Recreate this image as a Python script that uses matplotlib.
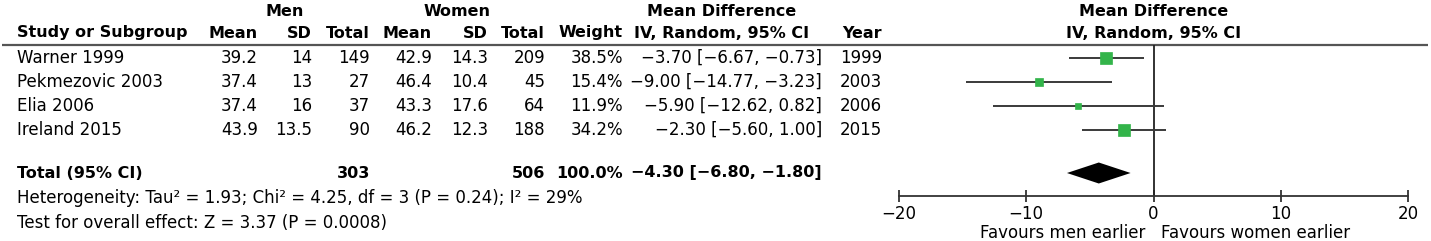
import matplotlib
matplotlib.use("Agg")
import matplotlib.pyplot as plt
import numpy as np

plt.rcParams['font.family'] = ['DejaVu Sans']

# ---------------- data ----------------
studies = ["Warner 1999", "Pekmezovic 2003", "Elia 2006", "Ireland 2015"]
men_mean = [39.2, 37.4, 37.4, 43.9]
men_sd = [14, 13, 16, 13.5]
men_total = [149, 27, 37, 90]
women_mean = [42.9, 46.4, 43.3, 46.2]
women_sd = [14.3, 10.4, 17.6, 12.3]
women_total = [209, 45, 64, 188]
weight = [38.5, 15.4, 11.9, 34.2]
md = [-3.70, -9.00, -5.90, -2.30]
ci_lo = [-6.67, -14.77, -12.62, -5.60]
ci_hi = [-0.73, -3.23, 0.82, 1.00]
year = [1999, 2003, 2006, 2015]

total_men = 303
total_women = 506
total_weight = 100.0
pooled_md = -4.30
pooled_lo = -6.80
pooled_hi = -1.80

heterogeneity = "Heterogeneity: Tau\u00b2 = 1.93; Chi\u00b2 = 4.25, df = 3 (P = 0.24); I\u00b2 = 29%"
overall = "Test for overall effect: Z = 3.37 (P = 0.0008)"
xticks = [-20, -10, 0, 10, 20]
left_label = "Favours men earlier"
right_label = "Favours women earlier"

# ---------------- layout ----------------
W, H = 1431, 241
FS = 12
FSB = 11.5
row_y = [58, 82, 106, 130]
total_y = 173
het_y = 198
test_y = 223
hdr1_y = 12
hdr2_y = 33
line_y = 45
axis_y = 196

def m(v, fmt):
    return fmt.format(v).replace("-", "\u2212")

fig = plt.figure(figsize=(W / 100, H / 100), dpi=100)
ax = fig.add_axes([0, 0, 1, 1])
ax.set_xlim(0, W)
ax.set_ylim(H, 0)
ax.axis("off")

txt = dict(fontsize=FS, va="center", color="black")
bold = dict(fontsize=FSB, va="center", color="black", fontweight="bold")

# headers
ax.text(285, hdr1_y, "Men", ha="center", **bold)
ax.text(457, hdr1_y, "Women", ha="center", **bold)
ax.text(722, hdr1_y, "Mean Difference", ha="center", **bold)
ax.text(17, hdr2_y, "Study or Subgroup", ha="left", **bold)
cols = [258, 312, 370, 432, 488, 545]
for x, lab in zip(cols, ["Mean", "SD", "Total", "Mean", "SD", "Total"]):
    ax.text(x, hdr2_y, lab, ha="right", **bold)
ax.text(623, hdr2_y, "Weight", ha="right", **bold)
ax.text(722, hdr2_y, "IV, Random, 95% CI", ha="center", **bold)
ax.text(882, hdr2_y, "Year", ha="right", **bold)
ax.hlines(line_y, 2, 1428, color="#555555", lw=1.6)

def fnum(v):
    return ("%g" % v)

for i, y in enumerate(row_y):
    ax.text(17, y, studies[i], ha="left", **txt)
    vals = [fnum(men_mean[i]), fnum(men_sd[i]), str(men_total[i]),
            fnum(women_mean[i]), fnum(women_sd[i]), str(women_total[i])]
    for x, v in zip(cols, vals):
        ax.text(x, y, v, ha="right", **txt)
    ax.text(623, y, "%.1f%%" % weight[i], ha="right", **txt)
    ax.text(822, y, m(md[i], "{:.2f}") + " [" + m(ci_lo[i], "{:.2f}") + ", " + m(ci_hi[i], "{:.2f}") + "]",
            ha="right", **txt)
    ax.text(882, y, str(year[i]), ha="right", **txt)

ax.text(17, total_y, "Total (95% CI)", ha="left", **bold)
ax.text(370, total_y, str(total_men), ha="right", **bold)
ax.text(545, total_y, str(total_women), ha="right", **bold)
ax.text(623, total_y, "%.1f%%" % total_weight, ha="right", **bold)
ax.text(822, total_y, m(pooled_md, "{:.2f}") + " [" + m(pooled_lo, "{:.2f}") + ", " + m(pooled_hi, "{:.2f}") + "]",
        ha="right", **bold)
ax.text(17, het_y, heterogeneity, ha="left", **txt)
ax.text(17, test_y, overall, ha="left", **txt)

# ---------------- forest panel ----------------
x0, x1 = 899, 1408
fa = fig.add_axes([x0 / W, 0, (x1 - x0) / W, 1])
fa.set_xlim(-20, 20)
fa.set_ylim(H, 0)
fa.patch.set_alpha(0)
for s in ["left", "right", "top"]:
    fa.spines[s].set_visible(False)
fa.spines["bottom"].set_position(("data", axis_y))
fa.spines["bottom"].set_color("#333333")
fa.spines["bottom"].set_linewidth(1.3)
fa.set_yticks([])
fa.set_xticks(xticks)
fa.tick_params(axis="x", direction="inout", length=9, width=1.3, color="#333333",
               labelsize=FS, pad=2)

fa.text(0, hdr1_y, "Mean Difference", ha="center", **bold)
fa.text(0, hdr2_y, "IV, Random, 95% CI", ha="center", **bold)

fa.vlines(0, line_y, axis_y, color="#222222", lw=1.3)

green = "#33b44a"
for i, y in enumerate(row_y):
    fa.hlines(y, ci_lo[i], ci_hi[i], color="#3a3a3a", lw=1.4, zorder=2)
    side_px = 1.95 * np.sqrt(weight[i])
    fa.plot(md[i], y, marker="s", ms=side_px * 0.72, color=green, mec=green, mew=0.5, zorder=3)

dh = 10.5
fa.fill([pooled_lo, pooled_md, pooled_hi, pooled_md],
        [total_y, total_y - dh, total_y, total_y + dh], color="black", lw=0, zorder=3)

fa.text(-0.6, 233, left_label, ha="right", **txt)
fa.text(0.6, 233, right_label, ha="left", **txt)

fig.savefig("out.png", dpi=100)
